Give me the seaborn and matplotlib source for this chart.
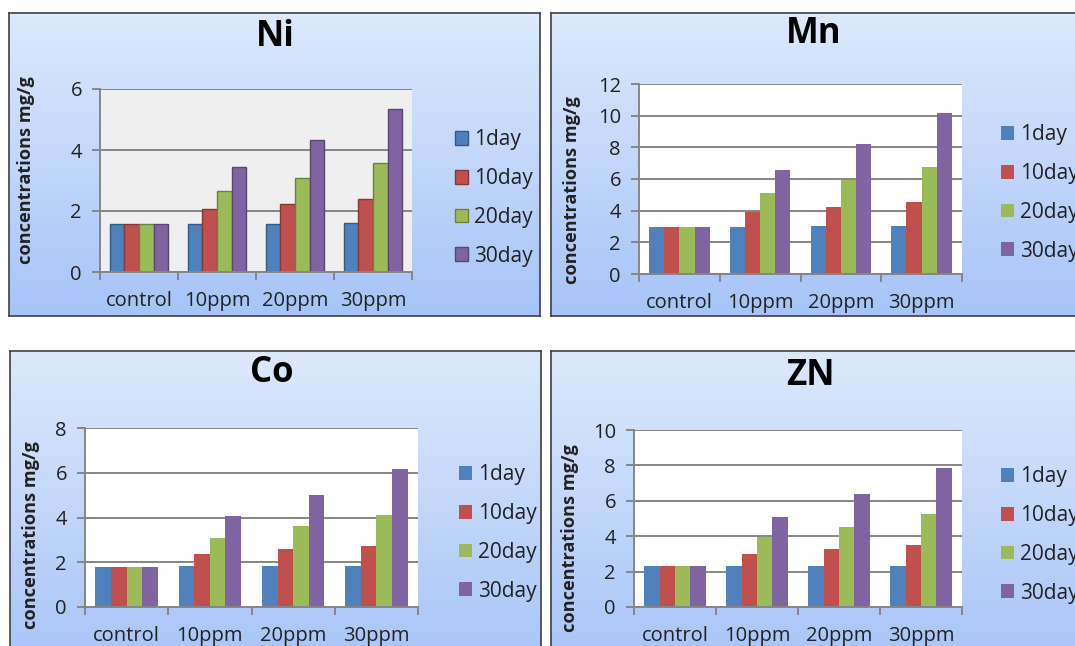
# Metal concentration by dose and exposure time: four panels of grouped bars

import matplotlib.pyplot as plt
import matplotlib.patches as mpatches
import matplotlib.colors as mcolors
import numpy as np
import pandas as pd
import seaborn as sns


W, H = 1075, 646

CATEGORIES = ["control", "10ppm", "20ppm", "30ppm"]
DAYS = ["1day", "10day", "20day", "30day"]

# one row per day, one column per category
NI_VALUES = [
    [1.57, 1.57, 1.57, 1.60],
    [1.57, 2.05, 2.23, 2.39],
    [1.57, 2.66, 3.09, 3.56],
    [1.57, 3.45, 4.33, 5.36],
]
MN_VALUES = [
    [2.97, 2.97, 3.06, 3.06],
    [2.97, 3.92, 4.24, 4.54],
    [2.97, 5.13, 5.91, 6.77],
    [2.97, 6.58, 8.23, 10.15],
]
CO_VALUES = [
    [1.80, 1.85, 1.85, 1.85],
    [1.80, 2.38, 2.58, 2.73],
    [1.80, 3.10, 3.62, 4.13],
    [1.80, 4.05, 4.99, 6.18],
]
ZN_VALUES = [
    [2.32, 2.32, 2.32, 2.32],
    [2.32, 2.98, 3.25, 3.49],
    [2.32, 3.96, 4.53, 5.25],
    [2.32, 5.09, 6.38, 7.87],
]

COLORS = ["#4F81BD", "#C0504D", "#9BBB59", "#8064A2"]
GRID = "#868686"
TEXT = "#222222"

# layout in pixels: panel box, plot area, title centre, y label centre, legend anchor
PANELS = [
    dict(title="Ni", values=NI_VALUES, ymax=6, box=(9, 13, 540, 316),
         plot=(100, 89, 412, 272), title_xy=(275, 37), ylab_xy=(26, 170),
         leg_xy=(455, 198), face="#efefef", edges=True),
    dict(title="Mn", values=MN_VALUES, ymax=12, box=(551, 13, 1090, 316),
         plot=(639, 84, 962, 274), title_xy=(814, 34), ylab_xy=(572, 190),
         leg_xy=(1001, 193), face="white", edges=False),
    dict(title="Co", values=CO_VALUES, ymax=8, box=(10, 351, 541, 670),
         plot=(85, 428, 418, 607), title_xy=(272, 373), ylab_xy=(31, 535),
         leg_xy=(459, 533), face="white", edges=False),
    dict(title="ZN", values=ZN_VALUES, ymax=10, box=(551, 351, 1090, 670),
         plot=(634, 430, 962, 607), title_xy=(810, 376), ylab_xy=(570, 538),
         leg_xy=(1001, 535), face="white", edges=False),
]


def fig_rect(x0, y0, x1, y1):
    return [x0 / W, 1 - y1 / H, (x1 - x0) / W, (y1 - y0) / H]


def darker(color, k=0.7):
    r, g, b = mcolors.to_rgb(color)
    return (r * k, g * k, b * k)


sns.set_theme(style="white")
plt.rcParams["font.family"] = ["Open Sans", "DejaVu Sans"]

fig = plt.figure(figsize=(W / 100, H / 100), dpi=100)
bg_cmap = mcolors.LinearSegmentedColormap.from_list("panel", ["#dde9fc", "#a6c4f7"])

for p in PANELS:
    # gradient panel background with a dark frame
    bg = fig.add_axes(fig_rect(*p["box"]), zorder=0)
    bg.imshow(np.linspace(0, 1, 256)[:, None], cmap=bg_cmap, aspect="auto",
              extent=[0, 1, 0, 1])
    bg.set_xticks([])
    bg.set_yticks([])
    for s in bg.spines.values():
        s.set_color("#404040")
        s.set_linewidth(1.2)

    df = pd.DataFrame(
        [(cat, day, p["values"][i][j])
         for i, day in enumerate(DAYS)
         for j, cat in enumerate(CATEGORIES)],
        columns=["category", "day", "value"],
    )

    ax = fig.add_axes(fig_rect(*p["plot"]), zorder=1)
    ax.set_facecolor(p["face"])
    sns.barplot(
        data=df,
        x="category",
        y="value",
        hue="day",
        order=CATEGORIES,
        hue_order=DAYS,
        palette=COLORS,
        saturation=1,
        width=0.75,
        legend=False,
        ax=ax,
    )
    for container, color in zip(ax.containers, COLORS):
        for bar in container:
            if p["edges"]:
                bar.set_edgecolor(darker(color))
                bar.set_linewidth(1.0)
            else:
                bar.set_linewidth(0)

    ax.set_xlim(-0.5, 3.5)
    ax.set_ylim(0, p["ymax"])
    ax.set_yticks(np.arange(0, p["ymax"] + 1, 2))
    ax.set_xticks(range(4))
    ax.set_xticklabels(CATEGORIES)
    ax.set_xticks([-0.5, 0.5, 1.5, 2.5, 3.5], minor=True)
    ax.set_xlabel("")
    ax.set_ylabel("")

    ax.yaxis.grid(True, color=GRID, linewidth=1.4)
    ax.set_axisbelow(True)
    for side in ["top", "right"]:
        ax.spines[side].set_visible(False)
    for side in ["left", "bottom"]:
        ax.spines[side].set_color(GRID)
        ax.spines[side].set_linewidth(1.4)

    ax.tick_params(axis="y", which="major", direction="out", length=6, width=1.4,
                   color=GRID, labelsize=14.5, labelcolor=TEXT, pad=7, left=True)
    ax.tick_params(axis="x", which="major", length=0, labelsize=14.5,
                   labelcolor=TEXT, pad=14)
    ax.tick_params(axis="x", which="minor", direction="out", length=6, width=1.4,
                   color=GRID, bottom=True)

    tx, ty = p["title_xy"]
    fig.text(tx / W, 1 - ty / H, p["title"], ha="center", va="center",
             fontsize=25, fontweight="bold", color="black")
    lx, ly = p["ylab_xy"]
    fig.text(lx / W, 1 - ly / H, "concentrations mg/g", rotation=90,
             ha="center", va="center", fontsize=13.1, fontweight="bold",
             color=TEXT)

    handles = [
        mpatches.Patch(facecolor=c,
                       edgecolor=darker(c) if p["edges"] else c,
                       linewidth=1.0 if p["edges"] else 0)
        for c in COLORS
    ]
    gx, gy = p["leg_xy"]
    ax.legend(
        handles,
        DAYS,
        loc="center left",
        bbox_to_anchor=(gx / W, 1 - gy / H),
        bbox_transform=fig.transFigure,
        frameon=False,
        fontsize=15,
        handlelength=0.62,
        handleheight=0.62,
        handletextpad=0.3,
        labelspacing=0.85,
        borderpad=0,
        borderaxespad=0,
        labelcolor=TEXT,
    )

fig.savefig("out.png", dpi=100)
